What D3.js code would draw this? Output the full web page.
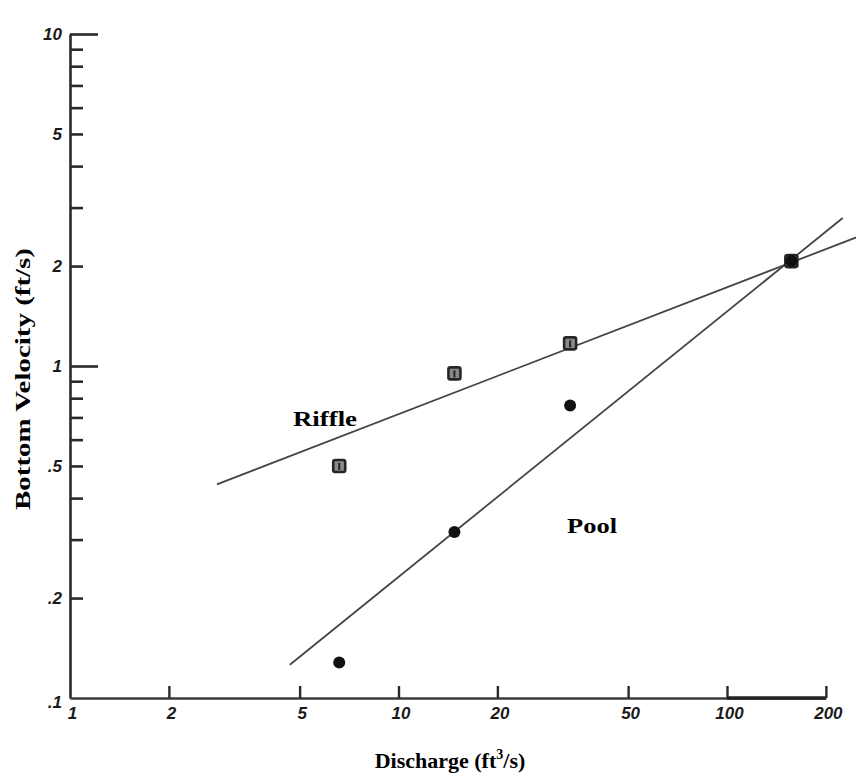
<!DOCTYPE html>
<html>
<head>
<meta charset="utf-8">
<script src="https://cdn.jsdelivr.net/npm/d3@7"></script>
<style>
  html, body { margin: 0; padding: 0; background: #fff; }
  svg { display: block; }
</style>
</head>
<body>
<svg id="chart" width="856" height="778"></svg>
<script>
// Discharge (ft^3/s) vs bottom velocity (ft/s), log-log
const riffleDischarge = [6.6, 14.8, 33.3, 157];
const riffleVelocity  = [0.5, 0.95, 1.17, 2.07];
const poolDischarge   = [6.6, 14.8, 33.3, 157];
const poolVelocity    = [0.128, 0.316, 0.76, 2.07];

// fitted lines, given by their two end points
const riffleFitQ = [2.8, 250];
const riffleFitV = [0.44, 2.45];
const poolFitQ   = [4.67, 225];
const poolFitV   = [0.126, 2.79];

const xTickValues = [1, 2, 5, 10, 20, 50, 100, 200];
const xTickLabels = ["1", "2", "5", "10", "20", "50", "100", "200"];
const yTickValues = [0.1, 0.2, 0.3, 0.4, 0.5, 0.6, 0.7, 0.8, 0.9, 1, 2, 3, 4, 5, 6, 7, 8, 9, 10];
const yLabelValues = [0.1, 0.2, 0.5, 1, 2, 5, 10];
const yLabelText   = [".1", ".2", ".5", "1", "2", "5", "10"];

const svg = d3.select("#chart");
const ink = "#2a2a2a";
const tickFont = "'Liberation Sans', Arial, sans-serif";

const x = d3.scaleLog().domain([1, 200]).range([70, 70 + 328.5 * Math.log10(200)]);
const y = d3.scaleLog().domain([0.1, 10]).range([698, 34]);

// ---- y axis: ticks point inward, only some carry labels
const yAxis = d3.axisLeft(y)
  .tickValues(yTickValues)
  .tickSizeInner(-13)
  .tickSizeOuter(0)
  .tickPadding(8)
  .tickFormat(d => {
    const i = yLabelValues.findIndex(v => Math.abs(v - d) < 1e-9);
    return i >= 0 ? yLabelText[i] : "";
  });

const gy = svg.append("g").attr("transform", `translate(${x(1)},0)`).call(yAxis);
gy.select(".domain").attr("stroke", ink).attr("stroke-width", 2.6);
gy.selectAll(".tick line")
  .attr("stroke", ink).attr("stroke-width", 2.6)
  .attr("x2", d => (d === 10 || d === 1) ? 28 : (d === 0.1 ? 0 : 13));
gy.selectAll(".tick text")
  .attr("fill", "#1a1a1a")
  .attr("dy", d => d === 0.1 ? "0.55em" : "0.32em")
  .style("font-family", tickFont)
  .style("font-style", "italic")
  .style("font-size", "17px")
  .style("font-weight", "bold");

// ---- x axis: ticks point upward
const xAxis = d3.axisBottom(x)
  .tickValues(xTickValues)
  .tickSizeInner(-12)
  .tickSizeOuter(0)
  .tickPadding(9)
  .tickFormat((d, i) => xTickLabels[i]);

const gx = svg.append("g").attr("transform", `translate(0,${y(0.1)})`).call(xAxis);
gx.select(".domain").attr("stroke", "#3a3a3a").attr("stroke-width", 2.6);
gx.selectAll(".tick line")
  .attr("stroke", ink).attr("stroke-width", 2.4)
  .attr("y2", d => d === 1 ? 0 : -12);
gx.selectAll(".tick text")
  .attr("fill", "#1a1a1a")
  .attr("x", 2)
  .style("font-family", tickFont)
  .style("font-style", "italic")
  .style("font-size", "17px")
  .style("font-weight", "bold");
// heavier stretch of the baseline between the last two ticks
gx.append("line")
  .attr("x1", x(100)).attr("x2", x(200))
  .attr("stroke", "#222").attr("stroke-width", 3.4);

// ---- fitted lines
const line = d3.line().x(d => x(d[0])).y(d => y(d[1]));
svg.append("path")
  .datum(d3.zip(riffleFitQ, riffleFitV))
  .attr("d", line).attr("fill", "none")
  .attr("stroke", "#444").attr("stroke-width", 1.8);
svg.append("path")
  .datum(d3.zip(poolFitQ, poolFitV))
  .attr("d", line).attr("fill", "none")
  .attr("stroke", "#444").attr("stroke-width", 1.8);

// ---- riffle observations (boxed squares)
const sq = svg.append("g").selectAll("g")
  .data(d3.zip(riffleDischarge, riffleVelocity))
  .join("g")
  .attr("transform", d => `translate(${x(d[0])},${y(d[1])})`);
sq.append("rect")
  .attr("x", -6).attr("y", -6).attr("width", 12).attr("height", 12)
  .attr("rx", 2)
  .attr("fill", "#8a8a8a").attr("stroke", "#262626").attr("stroke-width", 2.6);
sq.append("line")
  .attr("x1", 0).attr("x2", 0).attr("y1", -3).attr("y2", 4)
  .attr("stroke", "#222").attr("stroke-width", 2);

// ---- pool observations (filled circles)
svg.append("g").selectAll("circle")
  .data(d3.zip(poolDischarge, poolVelocity))
  .join("circle")
  .attr("cx", d => x(d[0])).attr("cy", d => y(d[1]))
  .attr("r", 6).attr("fill", "#111");

// ---- series labels
const serif = "'Liberation Serif', 'Times New Roman', serif";
svg.append("text").attr("x", 293).attr("y", 426)
  .attr("textLength", 64).attr("lengthAdjust", "spacingAndGlyphs")
  .style("font-family", serif).style("font-weight", "bold").style("font-size", "22px")
  .text("Riffle");
svg.append("text").attr("x", 567).attr("y", 533)
  .attr("textLength", 50).attr("lengthAdjust", "spacingAndGlyphs")
  .style("font-family", serif).style("font-weight", "bold").style("font-size", "22px")
  .text("Pool");

// ---- axis titles
svg.append("text")
  .attr("transform", "translate(30,379) rotate(-90)")
  .attr("text-anchor", "middle")
  .attr("textLength", 262).attr("lengthAdjust", "spacingAndGlyphs")
  .style("font-family", serif).style("font-weight", "bold").style("font-size", "22px")
  .text("Bottom Velocity (ft/s)");

const xt = svg.append("text")
  .attr("x", 450).attr("y", 768)
  .attr("text-anchor", "middle")
  .style("font-family", serif).style("font-weight", "bold").style("font-size", "22px");
xt.append("tspan").text("Discharge (ft");
xt.append("tspan").attr("dy", -9).style("font-size", "14px").text("3");
xt.append("tspan").attr("dy", 9).text("/s)");
</script>
</body>
</html>
